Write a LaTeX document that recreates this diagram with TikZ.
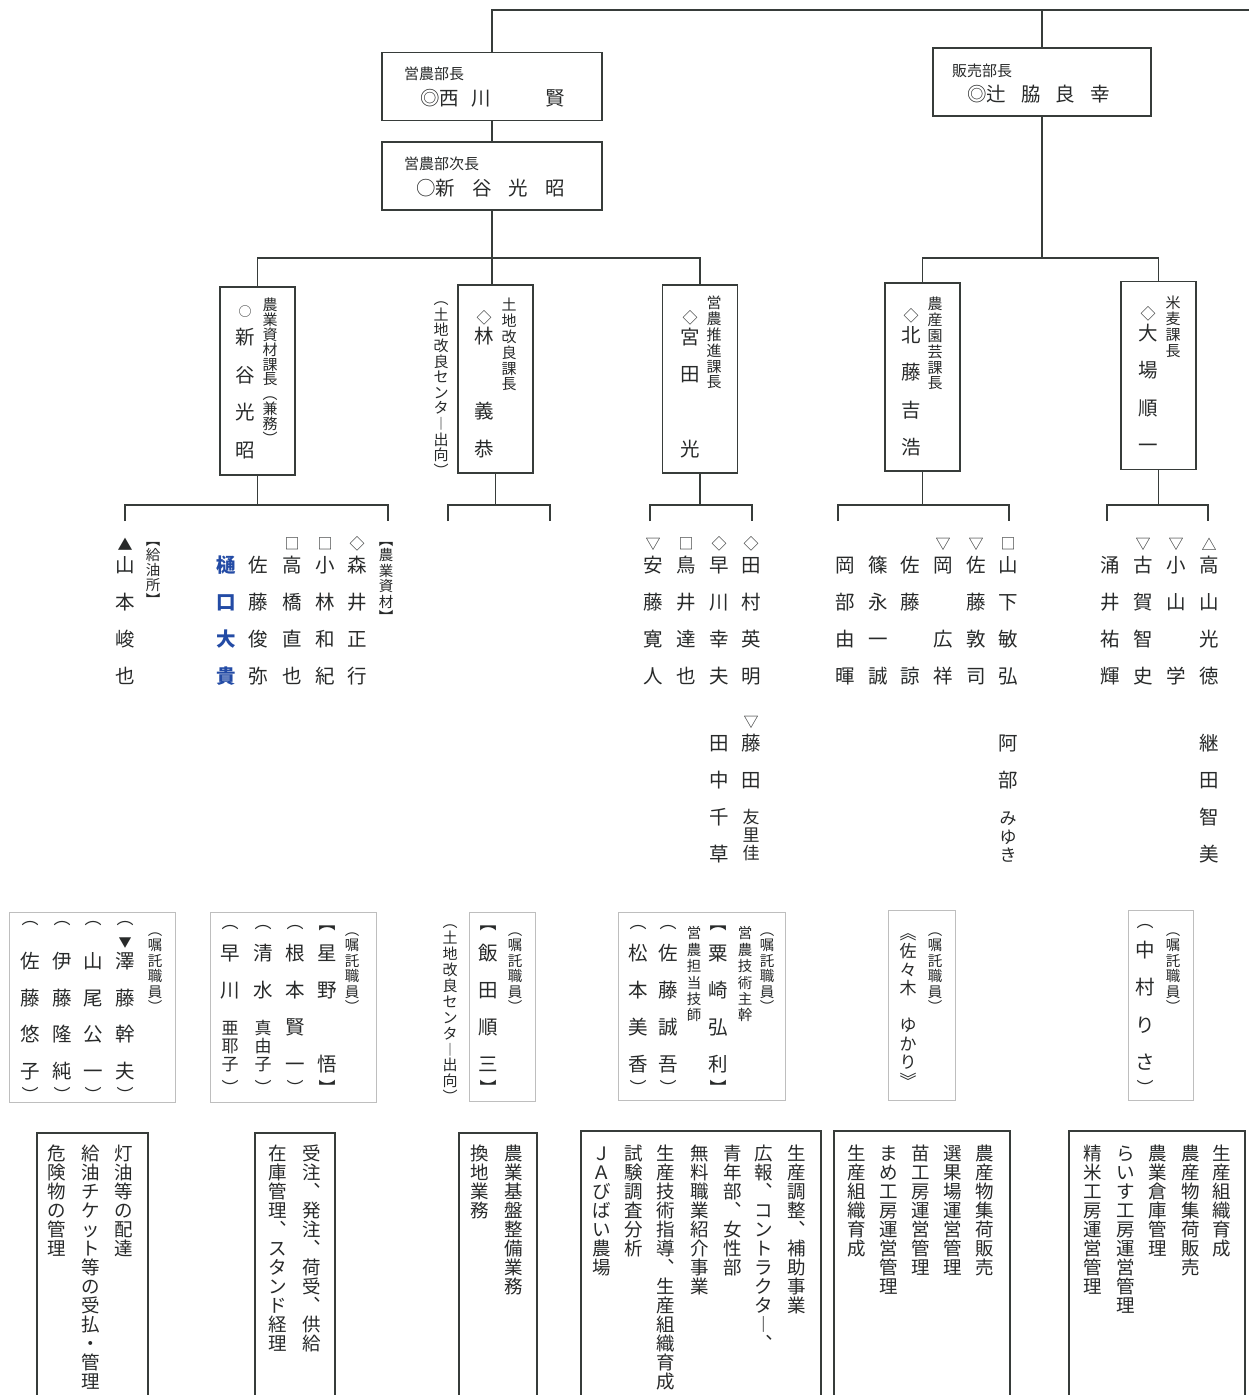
\documentclass[tikz,border=0pt]{standalone}
\usepackage{fontspec}
\setmainfont{Noto Sans CJK JP}
\usepackage{tikz}
\usetikzlibrary{positioning}
\definecolor{cLine}{RGB}{55,60,58}
\definecolor{cText}{RGB}{40,42,42}
\definecolor{cFrame}{RGB}{190,190,190}
\definecolor{cBlue}{RGB}{35,75,165}
% vertical (tategaki) column: one cell per character
\makeatletter
\newcommand\tate[2][1em]{\edef\tate@list{#2}\def\tate@p{#1}\expandafter\tate@run\expandafter{\tate@list}}
\newcommand\tate@run[1]{\vtop{\offinterlineskip\@tfor\tch:=#1\do{\vbox to \tate@p{\vss\hbox to 1em{\hss\tch\hss\vrule height .88em depth .12em width 0pt}\vss}}}}
\makeatother

\begin{document}
\begin{tikzpicture}[x=1pt,y=-1pt,text=cText]
\tikzset{
  ln/.style={draw=cLine,line width=1.6pt},
  hd/.style={draw=cLine,line width=1.6pt,minimum width=220pt,minimum height=68pt,inner sep=0pt},
  kc/.style={draw=cLine,line width=1.6pt,minimum width=75pt,minimum height=188pt,inner sep=0pt},
  sb/.style={draw=cFrame,line width=1pt,inner sep=0pt},
  db/.style={draw=cLine,line width=1.3pt,inner sep=0pt},
  col/.style={anchor=north,inner sep=0pt,font=\fontsize{19.5}{19.5}\selectfont},
  ttl/.style={col,font=\fontsize{15}{15}\selectfont},
  sml/.style={col,font=\fontsize{14.5}{14.5}\selectfont},
  duty/.style={col,font=\fontsize{18.5}{18.5}\selectfont},
  tight/.style={col,font=\fontsize{17}{17}\selectfont},
  mk/.style={inner sep=0pt,font=\fontsize{15}{15}\selectfont},
  br/.style={inner sep=0pt,font=\fontsize{17}{17}\selectfont},
  hl/.style={anchor=west,inner sep=0pt,font=\fontsize{15}{15}\selectfont},
  hn/.style={anchor=west,inner sep=0pt,font=\fontsize{19.5}{19.5}\selectfont}
}
\fill[white] (0,0) rectangle (1248,1395);
\useasboundingbox (0,0) rectangle (1248,1395);

% heads
\node[hd] (eibu) at (492,86.5) {};
\node[hd] (jicho) at (492,176) {};
\node[hd,minimum width=218pt] (hanbai) at (1042,82) {};
\coordinate (topR) at (1252,10);
\draw[ln] (eibu.north) |- (topR);
\draw[ln] (hanbai.north) -- (hanbai.north |- topR);
\draw[ln] (eibu) -- (jicho);
\node[hl] (eibuT) at (404,74) {営農部長};
\node[hn] (eibuN) at (420,98) {◎西\hspace{12pt}川\hspace{55pt}賢};
\node[hl] (jichoT) at (404,164) {営農部次長};
\node[hn] (jichoN) at (416,188) {○新\hspace{17pt}谷\hspace{17pt}光\hspace{17pt}昭};
\node[hl] (hanbaiT) at (952,71) {販売部長};
\node[hn] (hanbaiN) at (967,94) {◎辻\hspace{15pt}脇\hspace{15pt}良\hspace{15pt}幸};

% section chiefs
\node[kc] (shizai) at (257.5,381) {};
\node[kc] (tochi) at (495.5,379) {};
\node[kc] (suishin) at (700,379) {};
\node[kc] (engei) at (922.5,377) {};
\node[kc] (beibaku) at (1158.5,375.5) {};
\coordinate (ebr) at (492,258);
\coordinate (hbr) at (1042,258);
\draw[ln] (jicho.south) -- (jicho.south |- tochi.north);
\draw[ln] (shizai.north) |- (ebr) -| (suishin.north);
\draw[ln] (hanbai.south) -- (hbr);
\draw[ln] (engei.north) |- (hbr) -| (beibaku.north);

\node[ttl] (shizaiT) at (270,297.5) {\tate[14.8pt]{農業資材課長︵兼務︶}};
\node[mk,font=\fontsize{13}{13}\selectfont] (shizaiM) at (245,312) {○};
\node[col] (shizaiN) at (245,318.5) {\tate[37.5pt]{新谷光昭}};
\node[ttl] (tochiT) at (509,297) {\tate[15.8pt]{土地改良課長}};
\node[mk] (tochiM) at (484,318) {◇};
\node[col] (tochiN) at (484,317.5) {\tate[37.5pt]{林　義恭}};
\node[ttl] (tochiS) at (441,291) {\tate[15.6pt]{︵土地改良センタ︱出向︶}};
\node[ttl] (suishinT) at (714,295) {\tate[15.8pt]{営農推進課長}};
\node[mk] (suishinM) at (690,318) {◇};
\node[col] (suishinN) at (690,318) {\tate[37.5pt]{宮田　光}};
\node[ttl] (engeiT) at (935,296) {\tate[15.8pt]{農産園芸課長}};
\node[mk] (engeiM) at (911,316) {◇};
\node[col] (engeiN) at (911,316) {\tate[37.5pt]{北藤吉浩}};
\node[ttl] (beibakuT) at (1173,295) {\tate[15.8pt]{米麦課長}};
\node[mk] (beibakuM) at (1148,314) {◇};
\node[col] (beibakuN) at (1148,314) {\tate[37.5pt]{大場順一}};

% brackets to staff
\foreach \s/\l/\r in {shizai/125/388, tochi/448/550, suishin/650/752, engei/838/1009, beibaku/1107/1208}{
  \coordinate (\s B) at (\s.south |- 0,505);
  \coordinate (\s L) at (\l,521);
  \coordinate (\s R) at (\r,521);
  \draw[ln] (\s.south) -- (\s B);
  \draw[ln] (\s L) |- (\s B) -| (\s R);
}

% staff
\node[sml] (gShizai) at (386,532) {\tate[15.5pt]{︻農業資材︼}};
\node[sml] (gKyuyu) at (153,532) {\tate[15pt]{︻給油所︼}};
\foreach \x/\m/\nm in {357/◇/森井正行, 325/□/小林和紀, 292/□/高橋直也, 125/▲/山本峻也,
  751/◇/田村英明, 719/◇/早川幸夫, 686/□/鳥井達也, 653/▽/安藤寛人,
  1008/□/山下敏弘, 976/▽/佐藤敦司, 943/▽/岡　広祥,
  1209/△/高山光徳, 1176/▽/小山　学, 1143/▽/古賀智史}{
  \node[mk] (m\x) at (\x,544) {\m};
  \node[col] (n\x) at (\x,546) {\tate[37pt]{\nm}};
}
\foreach \x/\nm in {258/佐藤俊弥, 910/佐藤　諒, 878/篠永一誠, 845/岡部由暉, 1110/涌井祐輝}{
  \node[col] (n\x) at (\x,546) {\tate[37pt]{\nm}};
}
\node[col,text=cBlue,font=\fontsize{19.5}{19.5}\selectfont\bfseries] (n226) at (226,546) {\tate[37pt]{樋口大貴}};
\node[mk] (m751b) at (751,722) {▽};
\node[col] (n751b) at (751,724.5) {\tate[37pt]{藤田}};
\node[tight] (n751c) at (751,808) {\tate[18pt]{友里佳}};
\node[col] (n719b) at (719,724.5) {\tate[37pt]{田中千草}};
\node[col] (n1008b) at (1008,724.5) {\tate[37pt]{阿部}};
\node[tight] (n1008c) at (1008,809) {\tate[18.5pt]{みゆき}};
\node[col] (n1209b) at (1209,724.5) {\tate[37pt]{継田智美}};

% entrusted staff boxes
\node[sb,minimum width=166pt,minimum height=190pt] (boxA) at (92,1007) {};
\node[sb,minimum width=166pt,minimum height=190pt] (boxB) at (293,1007) {};
\node[sb,minimum width=66pt,minimum height=189pt] (boxC) at (502,1006.5) {};
\node[sb,minimum width=167pt,minimum height=188pt] (boxD) at (701.5,1006) {};
\node[sb,minimum width=67pt,minimum height=190pt] (boxE) at (921.5,1005) {};
\node[sb,minimum width=65pt,minimum height=190pt] (boxF) at (1160.5,1005) {};
\foreach \x in {155,352,515,767,935,1173}
  \node[sml] (sh\x) at (\x,922) {\tate[15.5pt]{︵嘱託職員︶}};

\foreach \x/\nm in {125/澤藤幹夫, 93/山尾公一, 62/伊藤隆純, 30/佐藤悠子}{
  \node[br] (ao\x) at (\x,924) {︵};
  \node[col] (a\x) at (\x,943) {\tate[36.5pt]{\nm}};
  \node[br] (ac\x) at (\x,1094) {︶};
}
\node[mk,font=\fontsize{13}{13}\selectfont] (aM) at (125,943) {▼};

\foreach \x/\o/\c/\nm in {327/︻/︼/星野　悟, 295/︵/︶/根本賢一, 263/︵/︶/清水, 230/︵/︶/早川,
  488/︻/︼/飯田順三, 718/︻/︼/粟崎弘利, 668/︵/︶/佐藤誠吾, 638/︵/︶/松本美香}{
  \node[br] (bo\x) at (\x,928) {\o};
  \node[col] (b\x) at (\x,934.5) {\tate[37pt]{\nm}};
  \node[br] (bc\x) at (\x,1087) {\c};
}
\node[tight] (b263c) at (263,1019) {\tate[18pt]{真由子}};
\node[tight] (b230c) at (230,1019) {\tate[18pt]{亜耶子}};
\node[ttl] (tochiS2) at (450,914) {\tate[15.9pt]{︵土地改良センタ︱出向︶}};
\node[sml] (dGijutsu) at (745,925) {\tate[16.4pt]{営農技術主幹}};
\node[sml] (dTanto) at (694,925) {\tate[16.4pt]{営農担当技師}};
\node[tight] (e908) at (908,923.5) {\tate[18.5pt]{︽佐々木　ゆかり︾}};
\node[br] (fo1145) at (1145,927) {︵};
\node[col] (f1145) at (1145,931) {\tate[37.5pt]{中村りさ}};
\node[br] (fc1145) at (1145,1087) {︶};

% duties
\node[db,minimum width=111pt,minimum height=265pt] (duA) at (92.5,1265.5) {};
\node[db,minimum width=80pt,minimum height=265pt] (duB) at (295,1265.5) {};
\node[db,minimum width=78pt,minimum height=265pt] (duC) at (498,1265.5) {};
\node[db,minimum width=240pt,minimum height=267pt] (duD) at (701,1264.5) {};
\node[db,minimum width=176pt,minimum height=267pt] (duE) at (922,1264.5) {};
\node[db,minimum width=176pt,minimum height=267pt] (duF) at (1157,1264.5) {};
\foreach \x/\t in {124/灯油等の配達, 91/給油チケット等の受払・管理, 57/危険物の管理,
  312/受注︑発注︑荷受︑供給, 278/在庫管理︑スタンド経理,
  514/農業基盤整備業務, 480/換地業務,
  797/生産調整︑補助事業, 764/広報︑コントラクタ︱︑, 733/青年部︑女性部, 700/無料職業紹介事業,
  666/生産技術指導︑生産組織育成, 634/試験調査分析, 602/ＪＡびばい農場,
  985/農産物集荷販売, 953/選果場運営管理, 921/苗工房運営管理, 889/まめ工房運営管理, 857/生産組織育成,
  1222/生産組織育成, 1191/農産物集荷販売, 1158/農業倉庫管理, 1126/らいす工房運営管理, 1093/精米工房運営管理}
  \node[duty] (d\x) at (\x,1144) {\tate[19pt]{\t}};
\end{tikzpicture}
\end{document}
